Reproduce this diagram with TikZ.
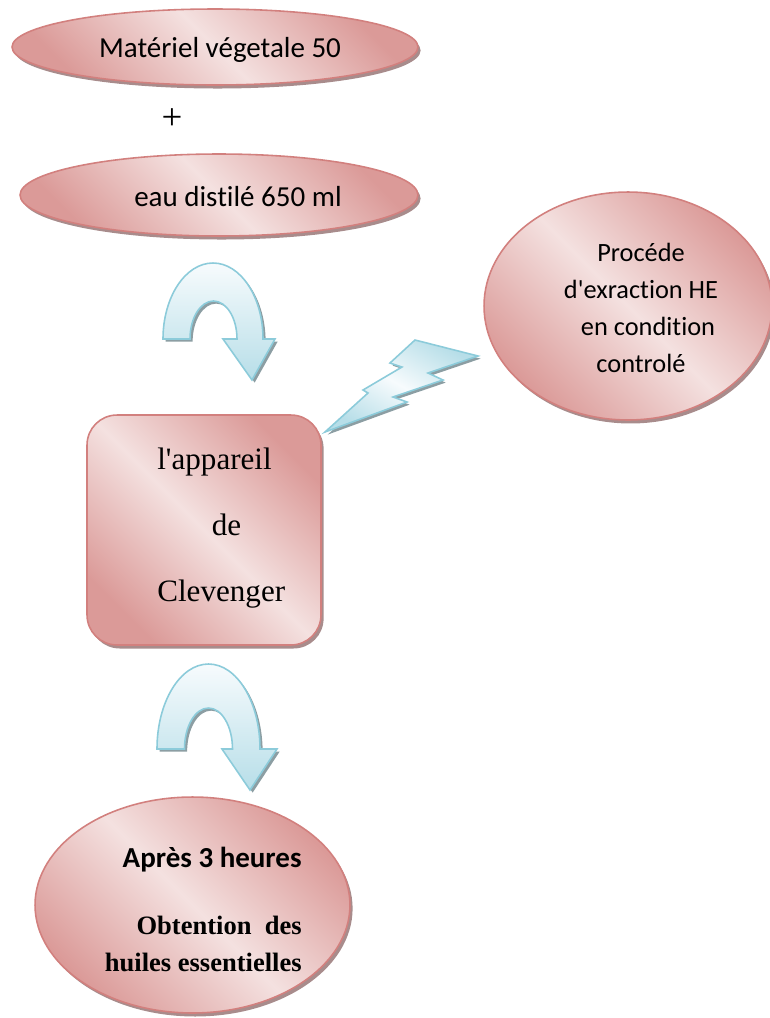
\documentclass[tikz,border=0pt]{standalone}
\usepackage{fontspec}
\setmainfont{Liberation Serif}
\newfontfamily\carlito[Ligatures=NoCommon]{Carlito}
\usetikzlibrary{positioning, calc, shapes.geometric, shadows}

\definecolor{pklight}{RGB}{244,225,224}
\definecolor{pkdark}{RGB}{219,154,152}
\definecolor{pkline}{RGB}{210,128,126}
\definecolor{pkshade}{RGB}{168,140,140}
\definecolor{bllight}{RGB}{247,251,253}
\definecolor{bldark}{RGB}{183,222,232}
\definecolor{blline}{RGB}{140,203,218}
\definecolor{blshade}{RGB}{140,158,163}

\tikzset{
  pinkshape/.style={draw=pkline, line width=0.9pt, top color=pkdark, bottom color=pkdark,
    middle color=pklight, shading angle=-45,
    drop shadow={shadow xshift=1.5pt, shadow yshift=-2pt, fill=pkshade, opacity=1}},
  pinkoval/.style={pinkshape, ellipse, inner sep=0pt},
  blueshape/.style={draw=blline, line width=0.9pt, top color=bllight, bottom color=bldark,
    drop shadow={shadow xshift=1.5pt, shadow yshift=-1.5pt, fill=blshade, opacity=1}},
  sanstext/.style={font=\carlito\fontsize{16.5}{20}\selectfont, inner sep=0pt},
}

\begin{document}
\begin{tikzpicture}[x=0.02cm, y=0.02cm]
    \useasboundingbox (0,0) rectangle (770,-1018);

    % Starting material
    \node[pinkoval, minimum width=8.12cm, minimum height=1.52cm] (mat) at (215,-47) {};
    \node[sanstext] (mattxt) at (220,-50) {Matériel végetale 50};
    \node[font=\fontsize{21}{24}\selectfont, inner sep=0pt] (plus) at (172,-119) {+};
    \node[pinkoval, minimum width=7.96cm, minimum height=1.64cm] (eau) at (219,-195) {};
    \node[sanstext] (eautxt) at (238,-197) {eau distilé 650 ml};

    % Curved arrow to the apparatus
    \draw[blueshape] (163,-339) arc[start angle=180, end angle=0, x radius=50, y radius=76]
        -- (275,-339) -- (252,-380) -- (223,-339) -- (237,-339)
        arc[start angle=0, end angle=180, x radius=23.5, y radius=38] -- cycle;

    % Apparatus
    \node[pinkshape, rectangle, rounded corners=0.6cm, minimum width=4.68cm, minimum height=4.6cm] (clev) at (204,-530) {};
    \node[font=\fontsize{17.7}{37.4}\selectfont, align=left, anchor=west, inner sep=0pt] (clevtxt) at (157,-528)
        {l\textquotesingle appareil\\\hspace*{31pt}de\\Clevenger};

    % Process conditions
    \node[pinkoval, minimum width=5.76cm, minimum height=4.56cm] (proc) at (628,-306) {};
    \node[font=\carlito\fontsize{15}{21}\selectfont, align=center, inner sep=0pt] (proctxt) at (641,-308)
        {Procéde\\d\textquotesingle exraction HE\\\hspace*{8pt}en condition\\controlé};

    % Lightning bolt
    \draw[blueshape, top color=bldark, bottom color=bldark, middle color=bllight, shading angle=-30]
        (325,-432) -- (368,-393) -- (363,-390) -- (402,-367) -- (390,-363) -- (415,-340)
        -- (478,-356) -- (428,-373) -- (443,-380) -- (393,-397) -- (407,-402) -- cycle;

    % Curved arrow to the result
    \draw[blueshape] (157,-749) arc[start angle=180, end angle=0, x radius=51.5, y radius=85]
        -- (277,-749) -- (250,-790) -- (222,-749) -- (232.5,-749)
        arc[start angle=0, end angle=180, x radius=24, y radius=41] -- cycle;

    % Result
    \node[pinkoval, minimum width=6.3cm, minimum height=4.32cm] (res) at (192.5,-905) {};
    \node[sanstext, font=\carlito\bfseries\fontsize{16.5}{20}\selectfont, anchor=east] (restime) at (302,-860) {Après 3 heures};
    \node[font=\bfseries\fontsize{15.1}{21}\selectfont, align=right, anchor=east, inner sep=0pt] (restxt) at (302,-944)
        {Obtention\ \ des\\huiles essentielles};
\end{tikzpicture}
\end{document}
